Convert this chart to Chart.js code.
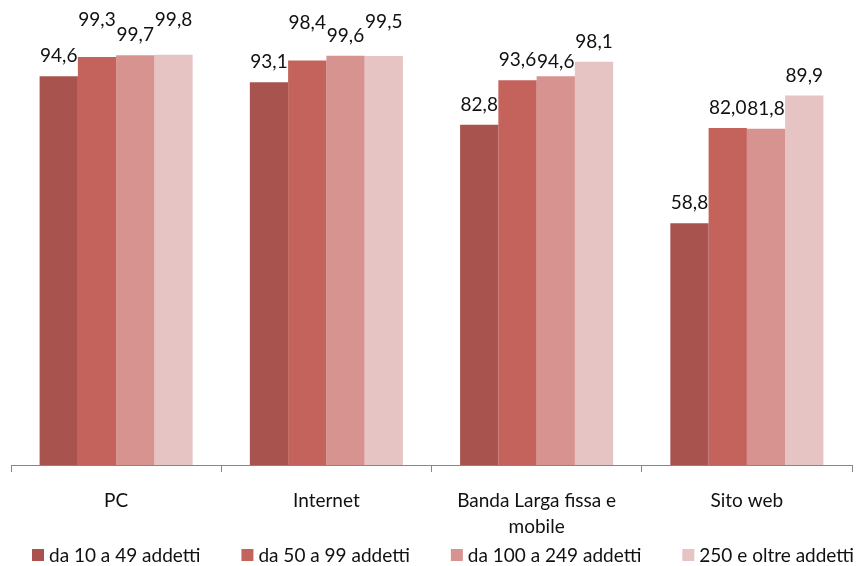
<!DOCTYPE html>
<html>
<head>
<meta charset="utf-8">
<script src="https://cdn.jsdelivr.net/npm/chart.js@4"></script>
<style>
  body { margin: 0; background: #fff; }
</style>
</head>
<body>
<canvas id="chart" width="858" height="566"></canvas>
<script>
const categories = ["PC", "Internet", ["Banda Larga fissa e", "mobile"], "Sito web"];
const seriesNames = ["da 10 a 49 addetti", "da 50 a 99 addetti", "da 100 a 249 addetti", "250 e oltre addetti"];
const da10a49 = [94.6, 93.1, 82.8, 58.8];
const da50a99 = [99.3, 98.4, 93.6, 82.0];
const da100a249 = [99.7, 99.6, 94.6, 81.8];
const oltre250 = [99.8, 99.5, 98.1, 89.9];

const colors = ["#A8534E", "#C4625C", "#D79390", "#E5C4C3"];
const FONT = "Lato";
const textColor = "#111111";

const fmt = (v) => v.toFixed(1).replace(".", ",");

// etichette sopra le barre (Excel sposta alcune per evitare sovrapposizioni)
const valueLabels = {
  id: "valueLabels",
  afterDatasetsDraw(chart, args, opts) {
    const ctx = chart.ctx;
    ctx.save();
    ctx.font = `19px ${FONT}`;
    ctx.fillStyle = textColor;
    ctx.textAlign = "center";
    ctx.textBaseline = "middle";
    chart.data.datasets.forEach((ds, di) => {
      const meta = chart.getDatasetMeta(di);
      meta.data.forEach((bar, i) => {
        const lift = opts.lift[di + "-" + i] || 0;
        ctx.fillText(fmt(ds.data[i]), bar.x, bar.y - 20 - lift);
      });
    });
    ctx.restore();
  }
};

const bottomLegend = {
  id: "bottomLegend",
  afterDraw(chart, args, opts) {
    const ctx = chart.ctx;
    ctx.save();
    ctx.font = `19px ${FONT}`;
    ctx.textBaseline = "middle";
    ctx.textAlign = "left";
    const box = 12, gap = 5;
    const widths = chart.data.datasets.map(ds => box + gap + ctx.measureText(ds.label).width);
    const total = widths.reduce((a, b) => a + b, 0) + opts.spacing * (widths.length - 1);
    let x = opts.centerX - total / 2;
    chart.data.datasets.forEach((ds, i) => {
      ctx.fillStyle = ds.backgroundColor;
      ctx.fillRect(x, opts.y - box / 2, box, box);
      ctx.fillStyle = textColor;
      ctx.fillText(ds.label, x + box + gap, opts.y + 1);
      x += widths[i] + opts.spacing;
    });
    ctx.restore();
  }
};

const datasets = [da10a49, da50a99, da100a249, oltre250].map((data, i) => ({
  label: seriesNames[i],
  data: data,
  backgroundColor: colors[i],
  borderWidth: 0,
  barPercentage: 1,
  categoryPercentage: 0.728
}));

new Chart(document.getElementById("chart"), {
  type: "bar",
  data: { labels: categories, datasets: datasets },
  plugins: [valueLabels, bottomLegend],
  options: {
    responsive: false,
    animation: false,
    layout: { padding: { top: 54, left: 11, right: 6, bottom: 23 } },
    scales: {
      y: { display: false, min: 0, max: 100 },
      x: {
        grid: { offset: true, drawOnChartArea: false, drawTicks: true, tickLength: 7, color: "#868686" },
        border: { color: "#868686" },
        ticks: {
          color: textColor,
          padding: 16,
          maxRotation: 0,
          font: { family: FONT, size: 19, lineHeight: 1.37 }
        },
        afterFit: (axis) => { axis.height = 78; }
      }
    },
    plugins: {
      legend: { display: false },
      tooltip: { enabled: false },
      valueLabels: { lift: { "1-0": 17, "3-0": 15, "1-1": 18, "3-1": 14, "2-2": -6 } },
      bottomLegend: { y: 555, centerX: 443, spacing: 41 }
    }
  }
});
</script>
</body>
</html>
